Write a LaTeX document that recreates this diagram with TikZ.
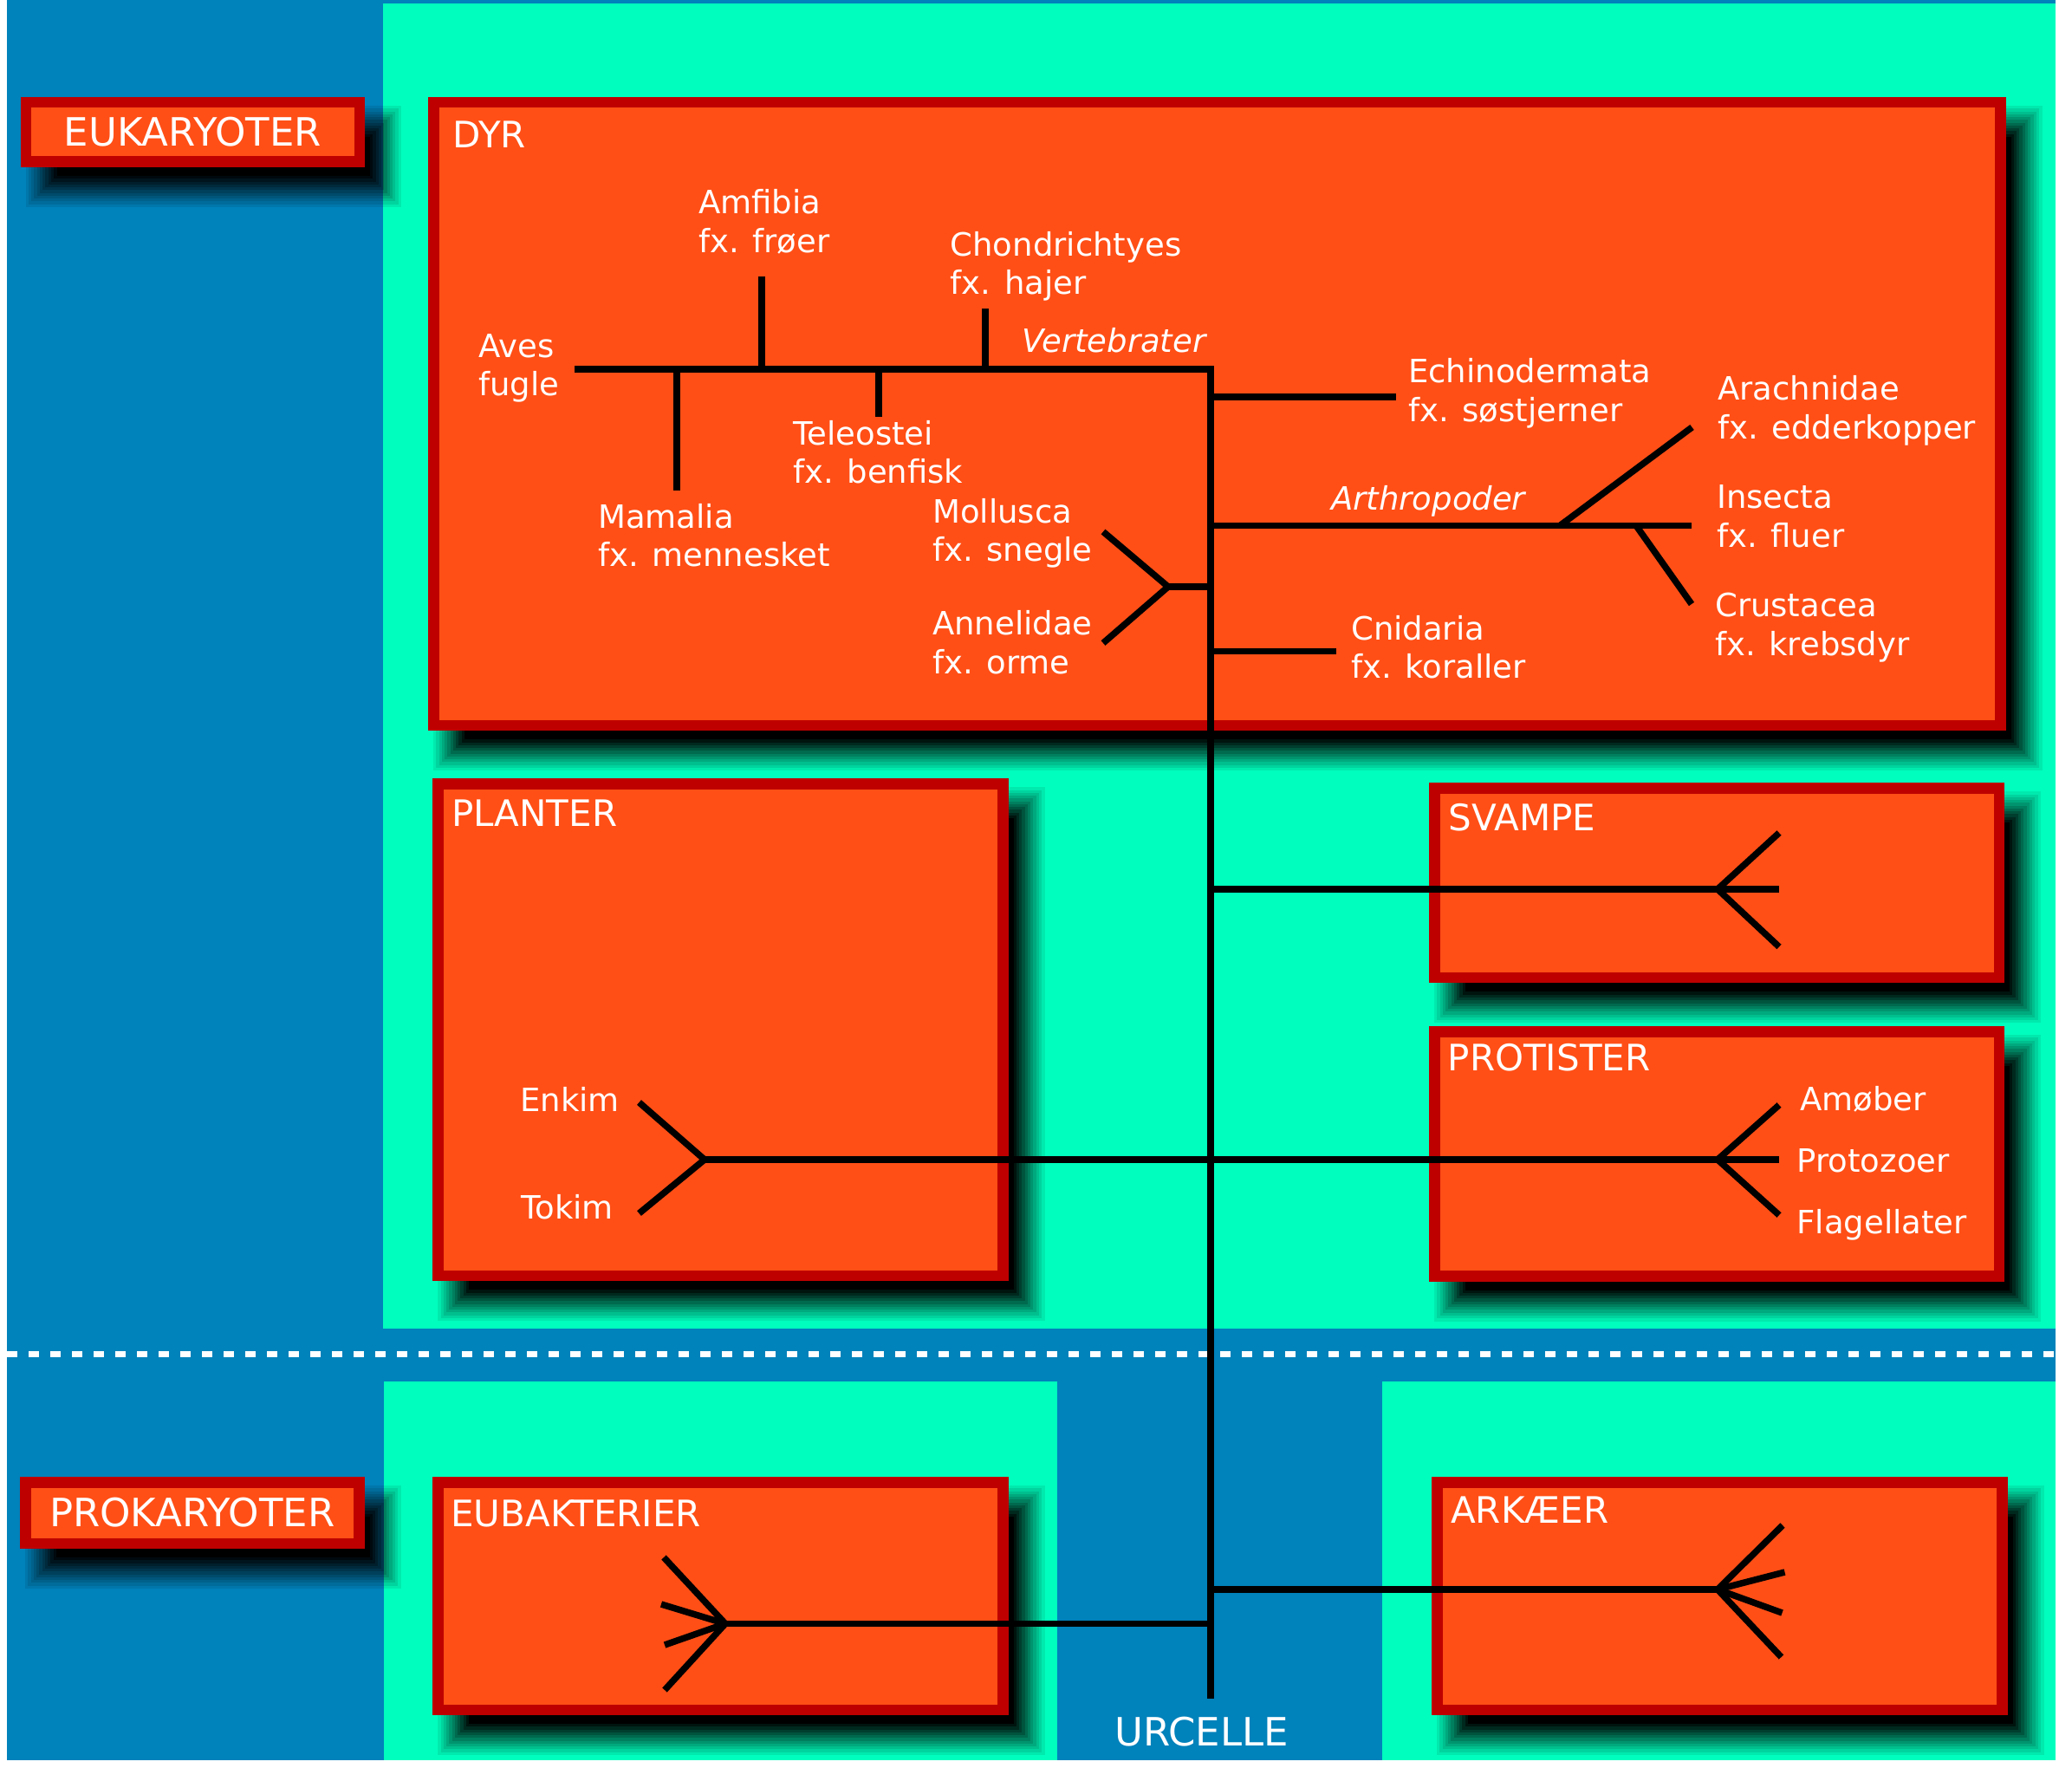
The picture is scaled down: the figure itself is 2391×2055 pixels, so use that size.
\documentclass[tikz,border=0pt]{standalone}
\usepackage{fontspec}
\setmainfont{DejaVu Sans}
\definecolor{bgblue}{RGB}{0,130,187}
\definecolor{bggreen}{RGB}{0,255,190}
\definecolor{boxfill}{RGB}{255,79,22}
\definecolor{boxline}{RGB}{190,0,0}
\newcommand\lblfont{\fontsize{37}{44.3}\selectfont}
\newcommand\ttlfont{\fontsize{42}{50}\selectfont}
\newcommand\bigfont{\fontsize{45}{54}\selectfont}
\newcommand\twoln[2]{\vtop{\hbox{#1}\hbox{#2}}}
\newcommand\dropshadow[4]{%
  \foreach \k in {1,...,12}{%
    \pgfmathsetmacro\shE{18-(\k-1)*36/11}%
    \pgfmathsetmacro\shO{1/(13-\k)}%
    \fill[black,opacity=\shO] ({#1+24-\shE},{#2+28-\shE}) rectangle ({#3+24+\shE},{#4+28+\shE});%
  }%
}
\begin{document}
\begin{tikzpicture}[x=1pt,y=-1pt,
  panel/.style={draw=boxline, fill=boxfill, line width=12.5pt, inner sep=0pt, outer sep=0pt, anchor=north west},
  tree/.style={line width=7.5pt, draw=black, line cap=butt, line join=miter},
  lbl/.style={text=white, font=\lblfont, anchor=base west, inner sep=0pt},
  italbl/.style={text=white, font=\lblfont\itshape, anchor=base west, inner sep=0pt},
  ttl/.style={text=white, font=\ttlfont, anchor=base west, inner sep=0pt},
  divider/.style={white, line width=7pt, dash pattern=on 12pt off 13pt}]
\useasboundingbox (0,0) rectangle (2391,2055);
\fill[white] (0,0) rectangle (2391,2055);
% backgrounds
\fill[bgblue] (7.7,0) rectangle (2372,2031);
\fill[bggreen] (442,4) rectangle (2372,1533);
\fill[bggreen] (443,1594) rectangle (1220,2031);
\fill[bggreen] (1595,1594) rectangle (2372,2031);
% divider
\coordinate (dashL) at (8,1562);
\coordinate (dashR) at (2370,1562);
\draw[divider] (dashL) -- (dashR);
% shadows
\dropshadow{23.5}{112}{421}{193}
\dropshadow{23}{1704}{420.5}{1787}
\dropshadow{494}{112}{2314.5}{843.3}
\dropshadow{499.3}{898.3}{1163.5}{1478.3}
\dropshadow{1649}{903.3}{2313}{1134.4}
\dropshadow{1649}{1184}{2313}{1478.5}
\dropshadow{499.3}{1704}{1163.5}{1979}
\dropshadow{1652}{1704}{2316.5}{1979}
% panels
\node[panel, minimum width=385pt, minimum height=68.5pt, font=\bigfont, text=white] (euk) at (29.75,118.25) {EUKARYOTER};
\node[panel, minimum width=385pt, minimum height=70.5pt, font=\bigfont, text=white] (prok) at (29.25,1710.25) {PROKARYOTER};
\node[panel, minimum width=1808pt, minimum height=718.8pt] (dyr) at (500.25,118.25) {};
\node[panel, minimum width=651.7pt, minimum height=567.5pt] (planter) at (505.55,904.55) {};
\node[panel, minimum width=651.5pt, minimum height=218.6pt] (svampe) at (1655.25,909.55) {};
\node[panel, minimum width=651.5pt, minimum height=282pt] (protister) at (1655.25,1190.25) {};
\node[panel, minimum width=651.7pt, minimum height=262.5pt] (eubak) at (505.55,1710.25) {};
\node[panel, minimum width=652pt, minimum height=262.5pt] (arkaeer) at (1658.25,1710.25) {};
% tree coordinates
\coordinate (vL) at (663,426);
\coordinate (vR) at (1397,426);
\coordinate (tB) at (1397,1960);
\coordinate (amf1) at (879,319);   \coordinate (amf0) at (879,426);
\coordinate (cho1) at (1137,356);  \coordinate (cho0) at (1137,426);
\coordinate (mam1) at (781,566);   \coordinate (mam0) at (781,426);
\coordinate (tel1) at (1014,481);  \coordinate (tel0) at (1014,426);
\coordinate (ech0) at (1397,458);  \coordinate (ech1) at (1611,458);
\coordinate (art0) at (1397,606.5); \coordinate (art1) at (1952,606.5);
\coordinate (araJ) at (1800,606.5); \coordinate (ara1) at (1952.5,493);
\coordinate (cruJ) at (1888,606.5); \coordinate (cru1) at (1952,697);
\coordinate (mol0) at (1397,677);  \coordinate (molJ) at (1348,677);
\coordinate (mol1) at (1273,613.5); \coordinate (ann1) at (1273,742);
\coordinate (cni0) at (1397,751.5); \coordinate (cni1) at (1542,751.5);
\coordinate (sva0) at (1397,1026); \coordinate (svaJ) at (1982,1026);
\coordinate (sva1) at (2053,1026); \coordinate (svaU) at (2053,961); \coordinate (svaD) at (2053,1092.5);
\coordinate (plaJ) at (813,1338);  \coordinate (enk1) at (737.5,1272); \coordinate (tok1) at (737.5,1400);
\coordinate (proJ) at (1982,1338); \coordinate (pro1) at (2053,1338);
\coordinate (proU) at (2053,1275); \coordinate (proD) at (2053,1402);
\coordinate (eub0) at (1397,1873.5); \coordinate (eubJ) at (837,1873.5);
\coordinate (e1) at (766,1797); \coordinate (e2) at (763,1851); \coordinate (e3) at (767,1898); \coordinate (e4) at (767,1950);
\coordinate (ark0) at (1397,1834); \coordinate (arkJ) at (1982,1834);
\coordinate (a1) at (2057,1760); \coordinate (a2) at (2059.5,1814); \coordinate (a3) at (2056.5,1861); \coordinate (a4) at (2055.5,1912);
% tree lines
\draw[tree] (vL) -- (vR) -- (tB);
\draw[tree] (amf0) -- (amf1);
\draw[tree] (cho0) -- (cho1);
\draw[tree] (mam0) -- (mam1);
\draw[tree] (tel0) -- (tel1);
\draw[tree] (ech0) -- (ech1);
\draw[tree] (art0) -- (art1);
\draw[tree] (araJ) -- (ara1);
\draw[tree] (cruJ) -- (cru1);
\draw[tree] (mol0) -- (molJ);
\draw[tree] (molJ) -- (mol1);
\draw[tree] (molJ) -- (ann1);
\draw[tree] (cni0) -- (cni1);
\draw[tree] (sva0) -- (sva1);
\draw[tree] (svaJ) -- (svaU);
\draw[tree] (svaJ) -- (svaD);
\draw[tree] (plaJ) -- (pro1);
\draw[tree] (plaJ) -- (enk1);
\draw[tree] (plaJ) -- (tok1);
\draw[tree] (proJ) -- (proU);
\draw[tree] (proJ) -- (proD);
\draw[tree] (eub0) -- (eubJ);
\draw[tree] (eubJ) -- (e1);
\draw[tree] (eubJ) -- (e2);
\draw[tree] (eubJ) -- (e3);
\draw[tree] (eubJ) -- (e4);
\draw[tree] (ark0) -- (arkJ);
\draw[tree] (arkJ) -- (a1);
\draw[tree] (arkJ) -- (a2);
\draw[tree] (arkJ) -- (a3);
\draw[tree] (arkJ) -- (a4);
% titles
\node[ttl] (dyrT) at (522,171) {DYR};
\node[ttl] (plaT) at (521,953) {PLANTER};
\node[ttl] (svaT) at (1671.5,958) {SVAMPE};
\node[ttl] (proT) at (1670.5,1235) {PROTISTER};
\node[ttl] (eubT) at (520,1761) {EUBAKTERIER};
\node[ttl] (arkT) at (1674,1757) {ARKÆER};
% labels
\node[lbl] (aves) at (552,412) {\twoln{Aves}{fugle}};
\node[lbl] (amf) at (806,247) {\twoln{Amfibia}{fx. frøer}};
\node[lbl] (cho) at (1096.5,295) {\twoln{Chondrichtyes}{fx. hajer}};
\node[italbl] (vert) at (1179,406) {Vertebrater};
\node[lbl] (tel) at (915,513) {\twoln{Teleostei}{fx. benfisk}};
\node[lbl] (mam) at (690,609) {\twoln{Mamalia}{fx. mennesket}};
\node[lbl] (mol) at (1076,603) {\twoln{Mollusca}{fx. snegle}};
\node[lbl] (ann) at (1076,732.7) {\twoln{Annelidae}{fx. orme}};
\node[lbl] (ech) at (1625,441.7) {\twoln{Echinodermata}{fx. søstjerner}};
\node[lbl] (ara) at (1982,461.7) {\twoln{Arachnidae}{fx. edderkopper}};
\node[italbl] (arth) at (1536,588) {Arthropoder};
\node[lbl] (ins) at (1981,586.7) {\twoln{Insecta}{fx. fluer}};
\node[lbl] (cru) at (1979,711.7) {\twoln{Crustacea}{fx. krebsdyr}};
\node[lbl] (cni) at (1559,738) {\twoln{Cnidaria}{fx. koraller}};
\node[lbl] (amo) at (2077,1281) {Amøber};
\node[lbl] (prz) at (2073.5,1352.5) {Protozoer};
\node[lbl] (fla) at (2073.5,1423) {Flagellater};
\node[lbl] (enk) at (600,1282.7) {Enkim};
\node[lbl] (tok) at (601,1406.7) {Tokim};
\node[text=white, font=\bigfont, anchor=base west, inner sep=0pt] (urc) at (1286,2014) {URCELLE};
\end{tikzpicture}
\end{document}
